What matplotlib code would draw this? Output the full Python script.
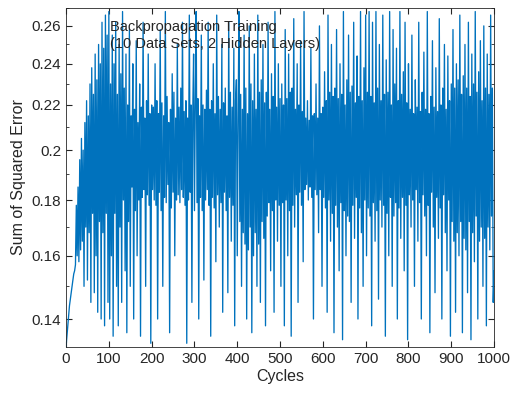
import numpy as np
import matplotlib
matplotlib.use('Agg')
import matplotlib.pyplot as plt
from matplotlib.ticker import FixedLocator, NullFormatter

# sum of squared error, one value every 2 cycles, in units of 1e-3
seg0 = [132, 135, 138, 141, 144, 146, 148, 150, 152, 154, 155, 157,
        178, 160, 185, 158, 196, 162, 205, 165, 200, 150, 212, 170, 222, 152,
        215, 168, 230, 145, 238, 175, 225, 148, 245, 160, 232, 142, 250, 172,
        240, 140, 262, 168, 248, 138, 266, 175, 255, 145, 268]
seg1 = [140, 230, 160, 255, 135, 240, 175, 262, 150, 225, 138, 250, 170, 235,
        145, 268, 180, 228, 155, 245, 136, 220, 172, 258, 150, 215, 185, 240,
        140, 218, 176, 252, 160, 212, 180, 230, 135, 219, 181, 262, 184, 214,
        150, 222, 182, 245, 178, 216, 133, 220]
seg2 = [184, 219, 180, 240, 178, 222, 140, 216, 183, 258, 176, 221, 150, 215,
        181, 268, 179, 224, 186, 212, 136, 218, 177, 235, 183, 226, 160, 214,
        180, 250, 182, 219, 179, 228, 184, 262, 181, 217, 178, 222, 133, 214,
        180, 266, 183, 220, 145, 216, 245, 176]
seg3 = [221, 268, 179, 223, 140, 215, 181, 255, 176, 220, 152, 218, 180, 227,
        184, 262, 178, 218, 135, 222, 181, 240, 177, 216, 158, 266, 182, 224,
        170, 218, 179, 250, 142, 221, 183, 228, 176, 215, 148, 262, 181, 226,
        165, 219, 178, 248, 138, 222, 232, 160]
seg4 = [214, 268, 172, 225, 150, 218, 168, 255, 164, 228, 140, 216, 162, 260,
        170, 230, 136, 222, 160, 245, 168, 218, 150, 266, 164, 226, 145, 232,
        172, 250, 166, 221, 138, 226, 174, 262, 179, 218, 155, 235, 176, 224,
        142, 268, 180, 219, 165, 240, 178, 223]
seg5 = [150, 230, 179, 220, 138, 258, 180, 223, 160, 245, 176, 226, 135, 228,
        178, 264, 170, 218, 182, 240, 145, 220, 183, 252, 178, 217, 158, 268,
        184, 214, 186, 222, 180, 213, 185, 248, 181, 215, 140, 216, 184, 230,
        182, 214, 168, 260, 184, 216, 150, 219]
seg6 = [181, 236, 177, 222, 142, 266, 180, 226, 165, 250, 175, 224, 136, 228,
        178, 258, 170, 223, 155, 240, 179, 225, 134, 268, 176, 220, 160, 232,
        174, 255, 172, 226, 145, 229, 178, 262, 166, 221, 181, 244, 140, 224,
        177, 268, 168, 222, 150, 238, 180, 266]
seg7 = [160, 226, 177, 268, 174, 224, 138, 262, 179, 221, 165, 268, 176, 228,
        146, 250, 180, 222, 170, 266, 178, 225, 135, 242, 175, 226, 160, 268,
        181, 220, 150, 258, 174, 230, 179, 248, 140, 222, 177, 268, 166, 225,
        181, 236, 155, 262, 178, 221, 134, 240]
seg8 = [182, 218, 170, 255, 180, 216, 150, 232, 184, 219, 165, 262, 179, 217,
        140, 226, 182, 246, 174, 218, 160, 268, 178, 216, 136, 224, 183, 252,
        170, 219, 148, 238, 181, 217, 166, 264, 177, 220, 140, 228, 182, 250,
        168, 218, 155, 244, 180, 222, 135, 230]
seg9 = [172, 258, 165, 228, 142, 240, 168, 232, 160, 266, 172, 225, 136, 234,
        166, 250, 162, 228, 148, 262, 172, 224, 134, 245, 168, 230, 158, 268,
        174, 226, 140, 236, 165, 252, 170, 222, 150, 260, 166, 228, 138, 245,
        170, 225, 162, 266, 174, 228, 145, 155]

err = np.array(seg0 + seg1 + seg2 + seg3 + seg4 + seg5 + seg6 + seg7 + seg8 + seg9) / 1000.0
cycles = np.arange(len(err)) * 2

plt.rcParams['font.family'] = ['Liberation Sans', 'DejaVu Sans']

fig = plt.figure(figsize=(5.12, 4.01), dpi=100)
ax = fig.add_axes([0.129, 0.135, 0.836, 0.845])
ax.plot(cycles, err, color='#0072BD', linewidth=0.95)

ax.set_yscale('log')
ax.set_xlim(0, 1000)
ax.set_ylim(0.132, 0.27)

yt = [0.14, 0.16, 0.18, 0.2, 0.22, 0.24, 0.26]
ax.yaxis.set_major_locator(FixedLocator(yt))
ax.set_yticklabels(['0.14', '0.16', '0.18', '0.2', '0.22', '0.24', '0.26'])
ax.yaxis.set_minor_locator(FixedLocator([0.13 + 0.01 * i for i in range(15)]))
ax.yaxis.set_minor_formatter(NullFormatter())
ax.set_xticks(range(0, 1001, 100))

ax.tick_params(which='both', direction='in', top=True, right=True,
               labelsize=11, colors='#262626')
ax.tick_params(which='major', length=4)
ax.tick_params(which='minor', length=2)
for s in ax.spines.values():
    s.set_color('#262626')
    s.set_linewidth(0.6)

ax.set_xlabel('Cycles', fontsize=11.5, color='#262626', labelpad=2)
ax.set_ylabel('Sum of Squared Error', fontsize=11.5, color='#262626', labelpad=4)

ax.text(0.103, 0.965, 'Backpropagation Training\n(10 Data Sets, 2 Hidden Layers)',
        transform=ax.transAxes, ha='left', va='top', fontsize=10.5,
        color='#262626', linespacing=1.25)

fig.savefig('out.png', dpi=100)
